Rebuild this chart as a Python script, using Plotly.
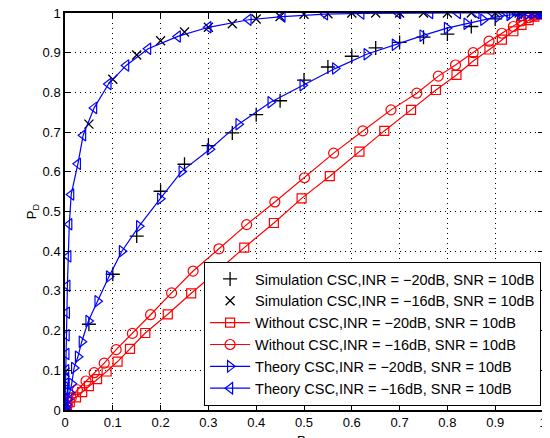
import plotly.graph_objects as go

# Without CSC, INR = -20dB (squares)
pf_sq = [0, 0.004, 0.010, 0.023, 0.036, 0.050, 0.067, 0.087, 0.110, 0.136, 0.168, 0.215, 0.264,
         0.319, 0.375, 0.437, 0.495, 0.554, 0.616, 0.668, 0.724, 0.776, 0.819, 0.854, 0.888,
         0.914, 0.938, 0.955, 0.970, 0.982, 0.991, 0.997, 1.0]
pd_sq = [0, 0.008, 0.020, 0.032, 0.045, 0.060, 0.078, 0.097, 0.122, 0.154, 0.194, 0.241, 0.294,
         0.350, 0.409, 0.471, 0.533, 0.589, 0.651, 0.703, 0.756, 0.806, 0.844, 0.879, 0.908,
         0.933, 0.954, 0.970, 0.982, 0.991, 0.996, 0.999, 1.0]

# Without CSC, INR = -16dB (circles)
pf_ci = [0, 0.005, 0.013, 0.026, 0.044, 0.061, 0.082, 0.107, 0.141, 0.179, 0.223, 0.268, 0.322,
         0.380, 0.439, 0.501, 0.562, 0.623, 0.682, 0.736, 0.781, 0.817, 0.854, 0.887, 0.914,
         0.938, 0.955, 0.970, 0.982, 0.991, 0.997, 1.0]
pd_ci = [0, 0.012, 0.030, 0.051, 0.073, 0.094, 0.118, 0.152, 0.193, 0.240, 0.295, 0.350, 0.406,
         0.467, 0.524, 0.585, 0.647, 0.703, 0.756, 0.798, 0.841, 0.869, 0.900, 0.929, 0.949,
         0.966, 0.980, 0.988, 0.994, 0.998, 0.999, 1.0]

# Theory CSC, INR = -20dB (right triangles)
pf_tr = [0, 0.001, 0.003, 0.006, 0.010, 0.014, 0.019, 0.027, 0.035, 0.049, 0.068, 0.092, 0.119,
         0.155, 0.199, 0.244, 0.303, 0.363, 0.430, 0.497, 0.565, 0.631, 0.690, 0.748, 0.799,
         0.840, 0.875, 0.906, 0.930, 0.952, 0.968, 0.981, 0.991, 0.997, 1.0]
pd_tr = [0, 0.006, 0.014, 0.027, 0.044, 0.066, 0.106, 0.134, 0.172, 0.224, 0.274, 0.336, 0.400,
         0.463, 0.532, 0.601, 0.657, 0.720, 0.775, 0.818, 0.860, 0.896, 0.920, 0.943, 0.962,
         0.973, 0.983, 0.991, 0.995, 0.998, 0.999, 1.0, 1.0, 1.0, 1.0]

# Theory CSC, INR = -16dB (left triangles)
pf_tl = [0, 0.0003, 0.0006, 0.001, 0.0015, 0.002, 0.0025, 0.003, 0.0035, 0.004, 0.005, 0.007,
         0.009, 0.013, 0.027, 0.038, 0.061, 0.091, 0.128, 0.174, 0.236, 0.300, 0.384, 0.455,
         0.544, 0.620, 0.697, 0.764, 0.822, 0.861, 0.895, 0.925, 0.950, 0.970, 0.985, 0.995, 1.0]
pd_tl = [0, 0.015, 0.030, 0.050, 0.066, 0.080, 0.100, 0.141, 0.188, 0.245, 0.313, 0.387,
         0.468, 0.543, 0.620, 0.692, 0.761, 0.821, 0.868, 0.910, 0.941, 0.964, 0.983, 0.991,
         0.997, 0.999, 1.0, 1.0, 1.0, 1.0, 1.0, 1.0, 1.0, 1.0, 1.0, 1.0, 1.0]

# Simulation points
pf_sim = [0, 0.05, 0.10, 0.15, 0.20, 0.25, 0.30, 0.35, 0.40, 0.45, 0.50, 0.55, 0.60, 0.65,
          0.70, 0.75, 0.80, 0.85, 0.90, 0.95, 1.0]
pd_sim20 = [0.02, 0.216, 0.342, 0.438, 0.551, 0.619, 0.666, 0.698, 0.744, 0.779, 0.831, 0.864,
            0.891, 0.912, 0.926, 0.939, 0.947, 0.966, 0.985, 0.995, 1.0]
pd_sim16 = [0.095, 0.720, 0.833, 0.894, 0.930, 0.952, 0.964, 0.973, 0.985, 0.991, 0.997, 0.998,
            1.0, 1.0, 1.0, 1.0, 1.0, 1.0, 1.0, 1.0, 1.0]

names = ["Simulation CSC,INR = \u221220dB, SNR = 10dB",
         "Simulation CSC,INR = \u221216dB, SNR = 10dB",
         "Without CSC,INR = \u221220dB, SNR = 10dB",
         "Without CSC,INR = \u221216dB, SNR = 10dB",
         "Theory CSC,INR = \u221220dB, SNR = 10dB",
         "Theory CSC,INR = \u221216dB, SNR = 10dB"]

fig = go.Figure()
fig.add_trace(go.Scatter(x=pf_sim, y=pd_sim20, mode="markers", name=names[0],
                         marker=dict(symbol="cross-thin-open", size=10, color="black",
                                     line=dict(width=1.3, color="black"))))
fig.add_trace(go.Scatter(x=pf_sim, y=pd_sim16, mode="markers", name=names[1],
                         marker=dict(symbol="x-thin-open", size=9, color="black",
                                     line=dict(width=1.3, color="black"))))
fig.add_trace(go.Scatter(x=pf_sq, y=pd_sq, mode="lines+markers", name=names[2],
                         line=dict(color="red", width=1.2),
                         marker=dict(symbol="square-open", size=9, color="red",
                                     line=dict(width=1.2))))
fig.add_trace(go.Scatter(x=pf_ci, y=pd_ci, mode="lines+markers", name=names[3],
                         line=dict(color="red", width=1.2),
                         marker=dict(symbol="circle-open", size=10, color="red",
                                     line=dict(width=1.2))))
fig.add_trace(go.Scatter(x=pf_tr, y=pd_tr, mode="lines+markers", name=names[4],
                         line=dict(color="blue", width=1.2),
                         marker=dict(symbol="triangle-right-open", size=10, color="blue",
                                     line=dict(width=1.2))))
fig.add_trace(go.Scatter(x=pf_tl, y=pd_tl, mode="lines+markers", name=names[5],
                         line=dict(color="blue", width=1.2),
                         marker=dict(symbol="triangle-left-open", size=10, color="blue",
                                     line=dict(width=1.2))))

axis_style = dict(range=[0, 1], dtick=0.1, showline=True, linecolor="black", linewidth=1.5,
                  mirror="ticks", ticks="inside", ticklen=5, tickcolor="black",
                  showgrid=True, gridcolor="black", gridwidth=1, griddash="1px,4px",
                  zeroline=False, tickfont=dict(size=13, color="black"), automargin=False,
                  ticklabeloverflow="allow")

fig.update_xaxes(**axis_style, tickformat="~g")
fig.update_yaxes(**axis_style, tickformat="~g",
                 title=dict(text="P<sub>D</sub>", font=dict(size=13, color="black"), standoff=3))

# x title sits low, partly below the bottom edge like in the original
fig.add_annotation(text="P<sub>F</sub>", xref="paper", yref="paper", x=0.5, y=0,
                   xanchor="center", yanchor="top", yshift=-21, showarrow=False,
                   font=dict(size=13, color="black"))

# the page body adds 8px on the left and top, so the figure is a bit smaller
fig.update_layout(
    width=542, height=430,
    margin=dict(l=57, r=7, t=5, b=28),
    paper_bgcolor="white", plot_bgcolor="white",
    font=dict(family="Liberation Sans, Arial, sans-serif", size=13, color="black"),
    legend=dict(x=0.996, y=0.01, xanchor="right", yanchor="bottom",
                bgcolor="white", bordercolor="black", borderwidth=1,
                font=dict(size=14.5), tracegroupgap=0, itemwidth=40),
    showlegend=True,
)

fig.write_html("out.html")
